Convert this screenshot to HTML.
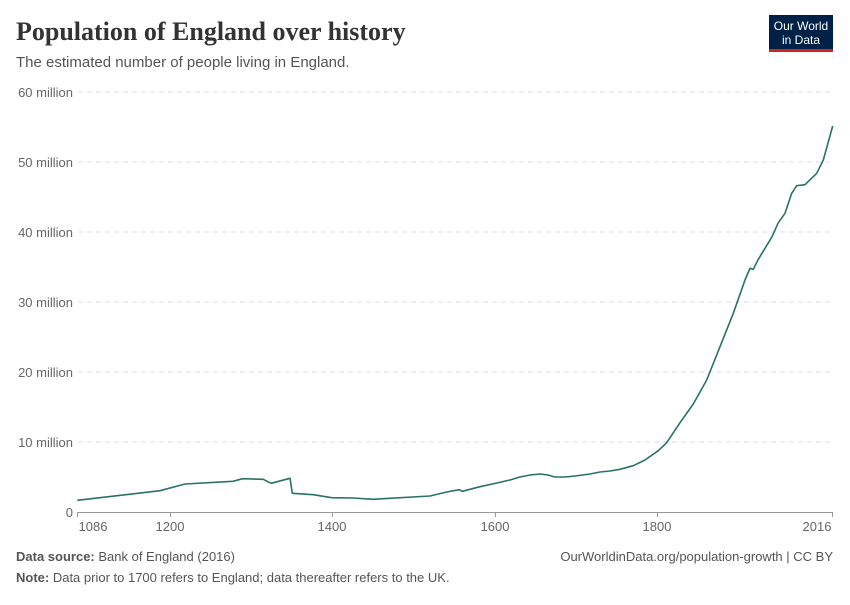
<!DOCTYPE html>
<html><head><meta charset="utf-8"><style>
body{margin:0;background:#fff;width:850px;height:600px;overflow:hidden;font-family:"Liberation Sans",sans-serif}
</style></head><body>
<svg width="850" height="600" xmlns="http://www.w3.org/2000/svg">
<text x="16" y="40" font-family="Liberation Serif,serif" font-weight="bold" font-size="26" fill="#333">Population of England over history</text>
<text x="16" y="67" font-size="15" fill="#555">The estimated number of people living in England.</text>
<rect x="769" y="15" width="64" height="34" fill="#002147"/>
<rect x="769" y="49" width="64" height="3" fill="#ce261e"/>
<text x="801" y="30" font-size="12" fill="#fff" text-anchor="middle">Our World</text>
<text x="801" y="44" font-size="12" fill="#fff" text-anchor="middle">in Data</text>
<g stroke="#ddd" stroke-dasharray="5,4" stroke-width="1">
<line x1="78" x2="833" y1="92" y2="92"/><line x1="78" x2="833" y1="162" y2="162"/>
<line x1="78" x2="833" y1="232" y2="232"/><line x1="78" x2="833" y1="302" y2="302"/>
<line x1="78" x2="833" y1="372" y2="372"/><line x1="78" x2="833" y1="442" y2="442"/>
</g>
<g font-size="13" fill="#666" text-anchor="end">
<text x="73" y="97">60 million</text><text x="73" y="167">50 million</text>
<text x="73" y="237">40 million</text><text x="73" y="307">30 million</text>
<text x="73" y="377">20 million</text><text x="73" y="447">10 million</text>
<text x="73" y="517">0</text>
</g>
<line x1="77" x2="833" y1="512.5" y2="512.5" stroke="#999"/>
<g stroke="#999"><line x1="77.5" x2="77.5" y1="512" y2="517"/><line x1="170.5" x2="170.5" y1="512" y2="517"/><line x1="332.5" x2="332.5" y1="512" y2="517"/><line x1="495.5" x2="495.5" y1="512" y2="517"/><line x1="657.5" x2="657.5" y1="512" y2="517"/><line x1="832.5" x2="832.5" y1="512" y2="517"/></g>
<g font-size="13" fill="#666" text-anchor="middle">
<text x="93" y="531">1086</text><text x="170" y="531">1200</text><text x="332" y="531">1400</text>
<text x="495" y="531">1600</text><text x="657" y="531">1800</text><text x="817" y="531">2016</text>
</g>
<polyline fill="none" stroke="#2a7265" stroke-width="1.6" stroke-linejoin="round" points="77.3,500.3 160,490.7 185,484 233,481.3 242.7,478.7 263.3,479.3 271,483.3 290,478.3 292.3,493.3 313.3,494.7 331.7,497.7 353,498 373,499.3 430,496 446.7,492 459.3,489.7 462.3,491.3 480,486.7 497,483 510,480 520,477 530,475 540,474 548,475 555,477 565,477 575,476 590,474 600,472 610,471 620,469.3 633.3,465.7 645,460 658.3,450.7 666.7,442.7 680,422.7 693.3,404 706.7,380 720,346.7 733.3,313.3 745,280 750,268.3 753.3,269.3 758.3,259.3 771.7,237.3 778.3,222.7 785,213.3 791.7,193.3 796.7,185.7 805,184.7 816.7,173.3 823.3,160 832.7,126"/>
<text x="16" y="561" font-size="13" fill="#555"><tspan font-weight="bold">Data source:</tspan> Bank of England (2016)</text>
<text x="833" y="561" font-size="13" fill="#555" text-anchor="end">OurWorldinData.org/population-growth | CC BY</text>
<text x="16" y="582" font-size="13" fill="#555"><tspan font-weight="bold">Note:</tspan> Data prior to 1700 refers to England; data thereafter refers to the UK.</text>
</svg>
</body></html>
